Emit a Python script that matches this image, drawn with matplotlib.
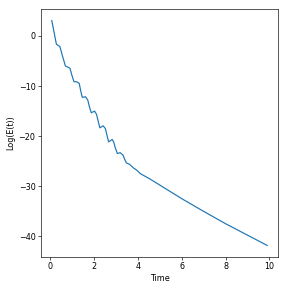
import numpy as np
import matplotlib
matplotlib.use("Agg")
import matplotlib.pyplot as plt

# values
time = [0.08, 0.29, 0.45, 0.58, 0.70, 0.80, 0.91, 1.00, 1.09, 1.21, 1.33, 1.40,
        1.47, 1.62, 1.72, 1.80, 1.88, 2.03, 2.12, 2.20, 2.27, 2.42, 2.52, 2.60,
        2.67, 2.83, 2.90, 2.98, 3.07, 3.20, 3.33, 3.40, 3.48, 3.62, 3.72, 3.81,
        3.96, 4.11, 4.56, 5.00, 6.00, 7.00, 8.00, 9.00, 9.90]
log_energy = [3.06, -1.66, -2.14, -4.2, -6.0, -6.2, -6.46, -7.9, -9.14, -9.14, -9.46, -11.0,
              -12.26, -12.14, -12.8, -14.2, -15.34, -15.0, -15.66, -17.1, -18.34, -17.94, -18.46, -19.9,
              -21.14, -20.66, -21.14, -22.4, -23.46, -23.3, -23.8, -24.6, -25.34, -25.6, -26.0, -26.36,
              -26.8, -27.46, -28.56, -29.75, -32.46, -35.0, -37.46, -39.75, -41.8]

fig, ax = plt.subplots(figsize=(5, 289 / 57.6), dpi=57.6)
fig.subplots_adjust(left=0.1424, right=0.9653, bottom=0.1118, top=0.9678)

ax.plot(time, log_energy, color="#1f77b4", lw=1.5)
ax.set_xlabel("Time")
ax.set_ylabel("Log(E(t))")
ax.set_xticks([0, 2, 4, 6, 8, 10])
ax.set_yticks([0, -10, -20, -30, -40])

fig.savefig("out.png", dpi=57.6)
